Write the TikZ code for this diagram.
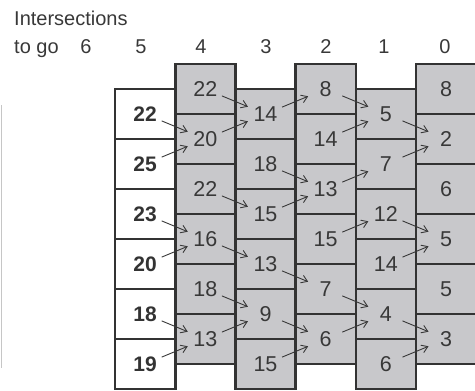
\documentclass[tikz,border=0pt]{standalone}
\usepackage{fontspec}
\setmainfont{Liberation Sans}
\usetikzlibrary{arrows.meta, positioning}
\definecolor{cellgrey}{HTML}{C8C8CB}
\definecolor{rule}{HTML}{333333}
\definecolor{ink}{HTML}{383838}
\tikzset{
    cell/.style={draw=rule, fill=cellgrey, line width=2.6pt, minimum width=60.2pt, minimum height=50pt,
                 inner sep=0pt, outer sep=0pt, text=ink, font=\fontsize{21.5}{25}\selectfont},
    startcell/.style={cell, fill=white, text=rule, font=\fontsize{21}{25}\selectfont\bfseries},
    hdr/.style={anchor=base, inner sep=0pt, text=ink, font=\fontsize{20}{24}\selectfont},
    arr/.style={-{Straight Barb[length=6pt,width=8pt]}, line width=0.9pt, ink, shorten <=18pt, shorten >=19pt}
}

\begin{document}
\begin{tikzpicture}[x=1pt, y=-1pt, node distance=0pt]
        \useasboundingbox (0,0) rectangle (475,391);
        \draw[gray!45, line width=1pt] (1,105) -- (1,368);
        % headings
        \node[hdr, anchor=base west] (title) at (14,25) {Intersections};
        \node[hdr, anchor=base west] (togo) at (14,53) {to go};
        \node[hdr] (h6) at (86,53) {6};
        \node[hdr] (h5) at (141,53) {5};
        \node[hdr] (h4) at (201,53) {4};
        \node[hdr] (h3) at (266,53) {3};
        \node[hdr] (h2) at (326,53) {2};
        \node[hdr] (h1) at (384,53) {1};
        \node[hdr] (h0) at (445,53) {0};
        % 5 to go
        \node[startcell] (c5r1) at (145.1,114) {22};
        \node[startcell, below=of c5r1] (c5r2) {25};
        \node[startcell, below=of c5r2] (c5r3) {23};
        \node[startcell, below=of c5r3] (c5r4) {20};
        \node[startcell, below=of c5r4] (c5r5) {18};
        \node[startcell, below=of c5r5] (c5r6) {19};
        % 4 to go
        \node[cell] (c4r1) at (205.3,89) {22};
        \node[cell, below=of c4r1] (c4r2) {20};
        \node[cell, below=of c4r2] (c4r3) {22};
        \node[cell, below=of c4r3] (c4r4) {16};
        \node[cell, below=of c4r4] (c4r5) {18};
        \node[cell, below=of c4r5] (c4r6) {13};
        % 3 to go
        \node[cell] (c3r1) at (265.5,114) {14};
        \node[cell, below=of c3r1] (c3r2) {18};
        \node[cell, below=of c3r2] (c3r3) {15};
        \node[cell, below=of c3r3] (c3r4) {13};
        \node[cell, below=of c3r4] (c3r5) {9};
        \node[cell, below=of c3r5] (c3r6) {15};
        % 2 to go
        \node[cell] (c2r1) at (325.7,89) {8};
        \node[cell, below=of c2r1] (c2r2) {14};
        \node[cell, below=of c2r2] (c2r3) {13};
        \node[cell, below=of c2r3] (c2r4) {15};
        \node[cell, below=of c2r4] (c2r5) {7};
        \node[cell, below=of c2r5] (c2r6) {6};
        % 1 to go
        \node[cell] (c1r1) at (385.9,114) {5};
        \node[cell, below=of c1r1] (c1r2) {7};
        \node[cell, below=of c1r2] (c1r3) {12};
        \node[cell, below=of c1r3] (c1r4) {14};
        \node[cell, below=of c1r4] (c1r5) {4};
        \node[cell, below=of c1r5] (c1r6) {6};
        % 0 to go
        \node[cell] (c0r1) at (446.1,89) {8};
        \node[cell, below=of c0r1] (c0r2) {2};
        \node[cell, below=of c0r2] (c0r3) {6};
        \node[cell, below=of c0r3] (c0r4) {5};
        \node[cell, below=of c0r4] (c0r5) {5};
        \node[cell, below=of c0r5] (c0r6) {3};
        % best moves
        \draw[arr] (c5r1.center) -- (c4r2.center);
        \draw[arr] (c5r2.center) -- (c4r2.center);
        \draw[arr] (c5r3.center) -- (c4r4.center);
        \draw[arr] (c5r4.center) -- (c4r4.center);
        \draw[arr] (c5r5.center) -- (c4r6.center);
        \draw[arr] (c5r6.center) -- (c4r6.center);
        \draw[arr] (c4r1.center) -- (c3r1.center);
        \draw[arr] (c4r2.center) -- (c3r1.center);
        \draw[arr] (c4r3.center) -- (c3r3.center);
        \draw[arr] (c4r4.center) -- (c3r4.center);
        \draw[arr] (c4r5.center) -- (c3r5.center);
        \draw[arr] (c4r6.center) -- (c3r5.center);
        \draw[arr] (c3r1.center) -- (c2r1.center);
        \draw[arr] (c3r2.center) -- (c2r3.center);
        \draw[arr] (c3r3.center) -- (c2r3.center);
        \draw[arr] (c3r4.center) -- (c2r5.center);
        \draw[arr] (c3r5.center) -- (c2r6.center);
        \draw[arr] (c3r6.center) -- (c2r6.center);
        \draw[arr] (c2r1.center) -- (c1r1.center);
        \draw[arr] (c2r2.center) -- (c1r1.center);
        \draw[arr] (c2r3.center) -- (c1r2.center);
        \draw[arr] (c2r4.center) -- (c1r3.center);
        \draw[arr] (c2r5.center) -- (c1r5.center);
        \draw[arr] (c2r6.center) -- (c1r5.center);
        \draw[arr] (c1r1.center) -- (c0r2.center);
        \draw[arr] (c1r2.center) -- (c0r2.center);
        \draw[arr] (c1r3.center) -- (c0r4.center);
        \draw[arr] (c1r4.center) -- (c0r4.center);
        \draw[arr] (c1r5.center) -- (c0r6.center);
        \draw[arr] (c1r6.center) -- (c0r6.center);
    \end{tikzpicture}
\end{document}
